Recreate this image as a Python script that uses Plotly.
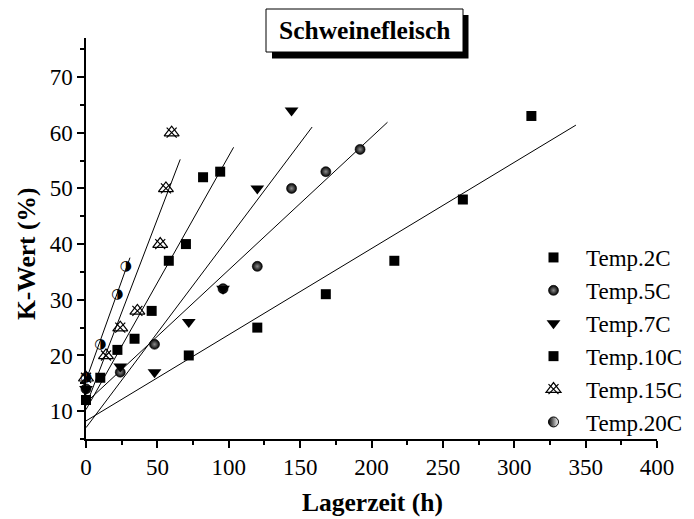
import numpy as np
import plotly.graph_objects as go

# Storage time (h) and K-value (%) per storage temperature
hours_2c = [0, 72, 120, 168, 216, 264, 312]
kwert_2c = [12, 20, 25, 31, 37, 48, 63]

hours_5c = [0, 24, 48, 96, 120, 144, 168, 192]
kwert_5c = [14, 17, 22, 32, 36, 50, 53, 57]

hours_7c = [0, 24, 48, 72, 96, 120, 144]
kwert_7c = [14, 18, 17, 26, 32, 50, 64]

hours_10c = [0, 10, 22, 34, 46, 58, 70, 82, 94]
kwert_10c = [12, 16, 21, 23, 28, 37, 40, 52, 53]

hours_15c = [0, 14, 24, 36, 52, 56, 60]
kwert_15c = [16, 20, 25, 28, 40, 50, 60]

hours_20c = [0, 10, 22, 28]
kwert_20c = [16, 22, 31, 36]

series_names = ["Temp.2C", "Temp.5C", "Temp.7C", "Temp.10C", "Temp.15C", "Temp.20C"]
x_tick_values = [0, 50, 100, 150, 200, 250, 300, 350, 400]
y_tick_values = [10, 20, 30, 40, 50, 60, 70]

title_text = "Schweinefleisch"
x_title = "Lagerzeit (h)"
y_title = "K-Wert (%)"

W, H = 694, 519
ML, MR, MT, MB = 86, 37, 38, 80
PW, PH = W - ML - MR, H - MT - MB

SERIF = "Liberation Serif, Times New Roman, serif"


def px_x(p):
    return (p - ML) / PW


def px_y(p):
    return (H - MB - p) / PH


series = [
    (hours_2c, kwert_2c),
    (hours_5c, kwert_5c),
    (hours_7c, kwert_7c),
    (hours_10c, kwert_10c),
    (hours_15c, kwert_15c),
    (hours_20c, kwert_20c),
]

fig = go.Figure()

# Least-squares lines, drawn from 0 to 110 % of the last storage time
for xs, ys in series:
    slope, icpt = np.polyfit(xs, ys, 1)
    x_end = 1.1 * max(xs)
    fig.add_trace(go.Scatter(
        x=[0, x_end], y=[icpt, icpt + slope * x_end], mode="lines",
        line=dict(color="black", width=1), showlegend=False, hoverinfo="skip"))

# Temp.2C: filled squares
fig.add_trace(go.Scatter(
    x=hours_2c, y=kwert_2c, mode="markers", name=series_names[0],
    legendgroup="g1", cliponaxis=False,
    marker=dict(symbol="square", size=10, color="black", line=dict(width=0))))

# Temp.5C: shaded spheres
fig.add_trace(go.Scatter(
    x=hours_5c, y=kwert_5c, mode="markers", name=series_names[1],
    legendgroup="g2", cliponaxis=False,
    marker=dict(symbol="circle", size=10, color="black",
                line=dict(width=0.6, color="black"),
                gradient=dict(type="radial", color="#8c8c8c"))))

# Temp.7C: filled down-triangles
fig.add_trace(go.Scatter(
    x=hours_7c, y=kwert_7c, mode="markers", name=series_names[2],
    legendgroup="g3", cliponaxis=False,
    marker=dict(symbol="triangle-down", size=12, color="black", line=dict(width=0))))

# Temp.10C: filled squares
fig.add_trace(go.Scatter(
    x=hours_10c, y=kwert_10c, mode="markers", name=series_names[3],
    legendgroup="g4", cliponaxis=False,
    marker=dict(symbol="square", size=10, color="black", line=dict(width=0))))

# Temp.15C: open triangle with a cross
fig.add_trace(go.Scatter(
    x=hours_15c, y=kwert_15c, mode="markers", name=series_names[4],
    legendgroup="g5", cliponaxis=False,
    marker=dict(symbol="triangle-up-open", size=13, color="black",
                line=dict(width=1.2, color="black"))))

# Temp.20C: half-filled circles
fig.add_trace(go.Scatter(
    x=hours_20c, y=kwert_20c, mode="text", text=["\u25d1"] * len(hours_20c),
    textposition="middle center", cliponaxis=False, showlegend=False,
    textfont=dict(family="DejaVu Sans", size=14, color="black")))
fig.add_trace(go.Scatter(
    x=[None], y=[None], mode="markers", name=series_names[5],
    legendgroup="g6",
    marker=dict(symbol="circle", size=10, color="black",
                line=dict(width=1, color="black"),
                gradient=dict(type="horizontal", color="white"))))

# Cross strokes of the Temp.15C symbol, in an overlaid second legend
ghost = dict(color="rgba(0,0,0,0)", size=9, line=dict(width=0))
for i, nm in enumerate(series_names):
    if i == 4:
        fig.add_trace(go.Scatter(
            x=hours_15c, y=kwert_15c, mode="markers", name=nm,
            legend="legend2", legendgroup="h5", cliponaxis=False,
            marker=dict(symbol="x-thin-open", size=10, color="black",
                        line=dict(width=1.2, color="black"))))
    else:
        fig.add_trace(go.Scatter(
            x=[None], y=[None], mode="markers", name=nm,
            legend="legend2", legendgroup="h%d" % (i + 1), marker=ghost))

legend_box = dict(x=px_x(521), y=px_y(236), xanchor="left", yanchor="top",
                  bgcolor="rgba(0,0,0,0)", borderwidth=0, itemwidth=55,
                  tracegroupgap=0, traceorder="grouped")

axis_common = dict(
    showline=True, linecolor="black", linewidth=1.5, mirror=False,
    ticks="outside", ticklen=7, tickwidth=1.5, tickcolor="black",
    showgrid=False, zeroline=False, automargin=False,
    tickfont=dict(family=SERIF, size=23),
)

fig.update_layout(
    width=W, height=H,
    margin=dict(l=ML, r=MR, t=MT, b=MB, autoexpand=False),
    paper_bgcolor="white", plot_bgcolor="white",
    font=dict(family=SERIF, color="black"),
    legend=dict(**legend_box, font=dict(family=SERIF, size=23, color="black")),
    legend2=dict(**legend_box, font=dict(family=SERIF, size=23, color="rgba(0,0,0,0)")),
    xaxis=dict(
        range=[0, 400], tickvals=x_tick_values, ticktext=[str(v) for v in x_tick_values],
        minor=dict(ticks="outside", ticklen=4, tickwidth=1.5, tickcolor="black",
                   tick0=25, dtick=50),
        **axis_common,
    ),
    yaxis=dict(
        range=[5, 77], tickvals=y_tick_values, ticktext=[str(v) for v in y_tick_values],
        minor=dict(ticks="outside", ticklen=4, tickwidth=1.5, tickcolor="black",
                   tick0=5, dtick=10),
        **axis_common,
    ),
    shapes=[
        dict(type="rect", xref="paper", yref="paper",
             x0=px_x(272), x1=px_x(468.5), y0=px_y(58.5), y1=px_y(15),
             fillcolor="black", line=dict(width=0)),
        dict(type="rect", xref="paper", yref="paper",
             x0=px_x(266), x1=px_x(463), y0=px_y(52), y1=px_y(9),
             fillcolor="white", line=dict(color="black", width=1)),
    ],
    annotations=[
        dict(text="<b>%s</b>" % title_text, xref="paper", yref="paper",
             x=px_x(364.5), y=px_y(30.5), xanchor="center", yanchor="middle",
             showarrow=False, font=dict(family=SERIF, size=25.5, color="black")),
        dict(text="<b>%s</b>" % y_title, xref="paper", yref="paper",
             x=px_x(26), y=px_y(254), xanchor="center", yanchor="middle",
             textangle=-90, showarrow=False,
             font=dict(family=SERIF, size=25.5, color="black")),
        dict(text="<b>%s</b>" % x_title, xref="paper", yref="paper",
             x=px_x(372), y=px_y(502), xanchor="center", yanchor="middle",
             showarrow=False, font=dict(family=SERIF, size=25.5, color="black")),
    ],
)

fig.write_html("out.html")
